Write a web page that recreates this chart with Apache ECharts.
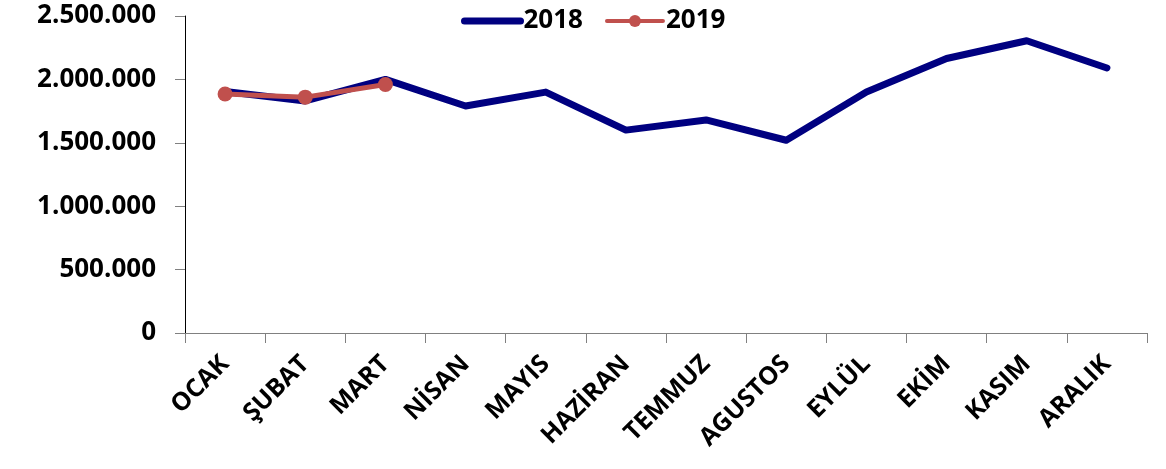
<!DOCTYPE html>
<html>
<head>
<meta charset="utf-8">
<script src="https://cdn.jsdelivr.net/npm/echarts@6/dist/echarts.min.js"></script>
<style>
  html, body { margin: 0; padding: 0; background: #fff; }
  #main { width: 1166px; height: 469px; }
</style>
</head>
<body>
<div id="main"></div>
<script>
const months = ['OCAK', 'ŞUBAT', 'MART', 'NİSAN', 'MAYIS', 'HAZİRAN', 'TEMMUZ', 'AGUSTOS', 'EYLÜL', 'EKİM', 'KASIM', 'ARALIK'];
const values2018 = [1905000, 1830000, 2000000, 1790000, 1900000, 1600000, 1680000, 1520000, 1900000, 2165000, 2305000, 2090000];
const values2019 = [1885000, 1860000, 1960000];

const chart = echarts.init(document.getElementById('main'));

// 2500000 -> 2.500.000
const fmt = v => String(v).replace(/\B(?=(\d{3})+(?!\d))/g, '.');

chart.setOption({
    animation: false,
    textStyle: { fontFamily: 'Open Sans' },
    legend: {
        top: 3,
        left: 456,
        itemWidth: 56,
        itemHeight: 15,
        itemGap: 22,
        textStyle: { fontSize: 26, fontWeight: 'bold', color: '#000', padding: [0, 0, 0, -2] },
        data: [
            { name: '2018', itemStyle: { opacity: 0 }, lineStyle: { width: 7, cap: 'round', color: '#000080' } },
            { name: '2019', lineStyle: { width: 4, cap: 'round', color: '#C0504D' } }
        ]
    },
    grid: { left: 185, right: 19, top: 16, bottom: 136 },
    xAxis: {
        type: 'category',
        data: months,
        boundaryGap: true,
        axisLine: { lineStyle: { color: '#808080', width: 1 } },
        axisTick: { show: true, length: 10, lineStyle: { color: '#808080' } },
        axisLabel: {
            rotate: 45,
            interval: 0,
            margin: 27,
            fontSize: 25,
            fontWeight: 'bold',
            color: '#000'
        }
    },
    yAxis: {
        type: 'value',
        min: 0,
        max: 2500000,
        interval: 500000,
        axisLine: { show: true, lineStyle: { color: '#000', width: 1 } },
        axisTick: { show: true, length: 10, lineStyle: { color: '#808080' } },
        splitLine: { show: false },
        axisLabel: {
            fontSize: 26,
            fontWeight: 'bold',
            color: '#000',
            margin: 29,
            formatter: fmt
        }
    },
    series: [
        {
            name: '2018',
            type: 'line',
            data: values2018,
            symbol: 'none',
            lineStyle: { color: '#000080', width: 7, cap: 'round', join: 'round' },
            itemStyle: { color: '#000080' }
        },
        {
            name: '2019',
            type: 'line',
            data: values2019,
            symbol: 'circle',
            symbolSize: 15,
            lineStyle: { color: '#C0504D', width: 5, cap: 'round' },
            itemStyle: { color: '#C0504D' }
        }
    ]
});
</script>
</body>
</html>
